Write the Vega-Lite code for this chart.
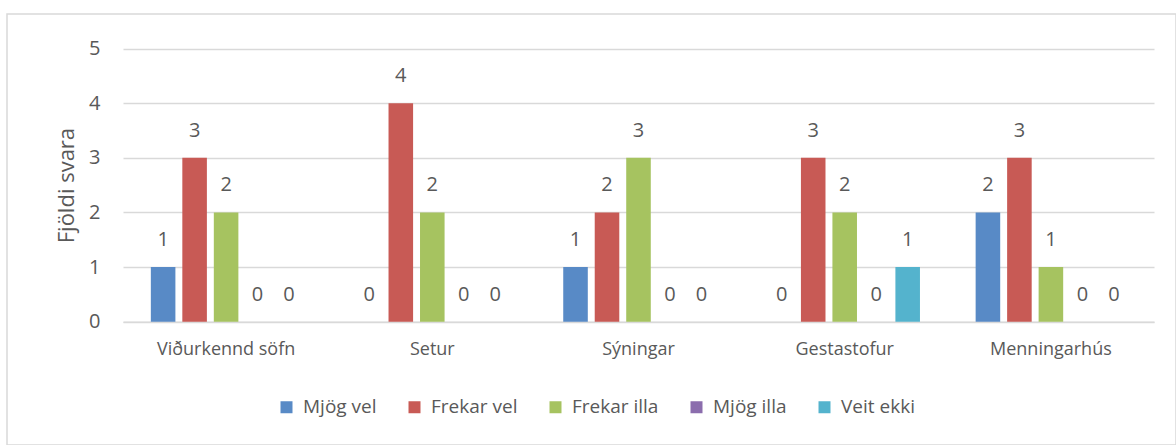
{
  "$schema": "https://vega.github.io/schema/vega-lite/v6.json",
  "width": 1169,
  "height": 431,
  "padding": {"left": 7, "top": 14, "right": 0, "bottom": 0},
  "autosize": {"type": "none"},
  "background": "white",
  "config": {
    "font": "Open Sans",
    "view": {"stroke": "#d9d9d9", "strokeWidth": 1.5}
  },
  "data": {
    "values": [
      {"cat": "Viðurkennd söfn", "series": "Mjög vel", "value": 1},
      {"cat": "Viðurkennd söfn", "series": "Frekar vel", "value": 3},
      {"cat": "Viðurkennd söfn", "series": "Frekar illa", "value": 2},
      {"cat": "Viðurkennd söfn", "series": "Mjög illa", "value": 0},
      {"cat": "Viðurkennd söfn", "series": "Veit ekki", "value": 0},
      {"cat": "Setur", "series": "Mjög vel", "value": 0},
      {"cat": "Setur", "series": "Frekar vel", "value": 4},
      {"cat": "Setur", "series": "Frekar illa", "value": 2},
      {"cat": "Setur", "series": "Mjög illa", "value": 0},
      {"cat": "Setur", "series": "Veit ekki", "value": 0},
      {"cat": "Sýningar", "series": "Mjög vel", "value": 1},
      {"cat": "Sýningar", "series": "Frekar vel", "value": 2},
      {"cat": "Sýningar", "series": "Frekar illa", "value": 3},
      {"cat": "Sýningar", "series": "Mjög illa", "value": 0},
      {"cat": "Sýningar", "series": "Veit ekki", "value": 0},
      {"cat": "Gestastofur", "series": "Mjög vel", "value": 0},
      {"cat": "Gestastofur", "series": "Frekar vel", "value": 3},
      {"cat": "Gestastofur", "series": "Frekar illa", "value": 2},
      {"cat": "Gestastofur", "series": "Mjög illa", "value": 0},
      {"cat": "Gestastofur", "series": "Veit ekki", "value": 1},
      {"cat": "Menningarhús", "series": "Mjög vel", "value": 2},
      {"cat": "Menningarhús", "series": "Frekar vel", "value": 3},
      {"cat": "Menningarhús", "series": "Frekar illa", "value": 1},
      {"cat": "Menningarhús", "series": "Mjög illa", "value": 0},
      {"cat": "Menningarhús", "series": "Veit ekki", "value": 0}
    ]
  },
  "encoding": {
    "x": {
      "field": "cat",
      "type": "nominal",
      "sort": ["Viðurkennd söfn", "Setur", "Sýningar", "Gestastofur", "Menningarhús"],
      "scale": {"range": [116, 1147], "paddingInner": 0.27, "paddingOuter": 0.135},
      "axis": {
        "title": null,
        "orient": "bottom",
        "offset": -123.3,
        "labelAngle": 0,
        "labelFontSize": 18,
        "labelColor": "#595959",
        "labelPadding": 19,
        "ticks": false,
        "tickSize": 0,
        "domain": true,
        "domainColor": "#d9d9d9",
        "domainWidth": 1.5,
        "grid": false
      }
    },
    "xOffset": {
      "field": "series",
      "type": "nominal",
      "sort": ["Mjög vel", "Frekar vel", "Frekar illa", "Mjög illa", "Veit ekki"],
      "scale": {"paddingInner": 0.22, "paddingOuter": 0}
    },
    "y": {
      "field": "value",
      "type": "quantitative",
      "scale": {"domain": [0, 5], "range": [307.7, 34.5], "nice": false},
      "axis": {
        "title": "Fjöldi svara",
        "titleFontSize": 22,
        "titleFontWeight": "normal",
        "titleColor": "#595959",
        "titlePadding": 10,
        "offset": -116,
        "values": [0, 1, 2, 3, 4, 5],
        "format": "d",
        "domain": false,
        "ticks": false,
        "tickSize": 0,
        "labelFontSize": 20,
        "labelColor": "#595959",
        "labelPadding": 23,
        "grid": true,
        "gridColor": "#d9d9d9",
        "gridWidth": 1.5
      }
    }
  },
  "layer": [
    {
      "mark": {"type": "bar"},
      "encoding": {
        "color": {
          "field": "series",
          "type": "nominal",
          "scale": {
            "domain": ["Mjög vel", "Frekar vel", "Frekar illa", "Mjög illa", "Veit ekki"],
            "range": ["#588AC6", "#C85A55", "#A6C360", "#8B6DAD", "#54B3CD"]
          },
          "legend": {
            "title": null,
            "orient": "none",
            "direction": "horizontal",
            "legendX": 270,
            "legendY": 383.5,
            "padding": 0,
            "symbolType": "square",
            "symbolSize": 144,
            "symbolStrokeWidth": 0,
            "labelFontSize": 19,
            "labelColor": "#595959",
            "labelOffset": 7,
            "columnPadding": 28
          }
        }
      }
    },
    {
      "mark": {"type": "text", "baseline": "alphabetic", "dy": -21, "fontSize": 20, "color": "#595959"},
      "encoding": {
        "text": {"field": "value", "type": "quantitative"}
      }
    }
  ]
}
